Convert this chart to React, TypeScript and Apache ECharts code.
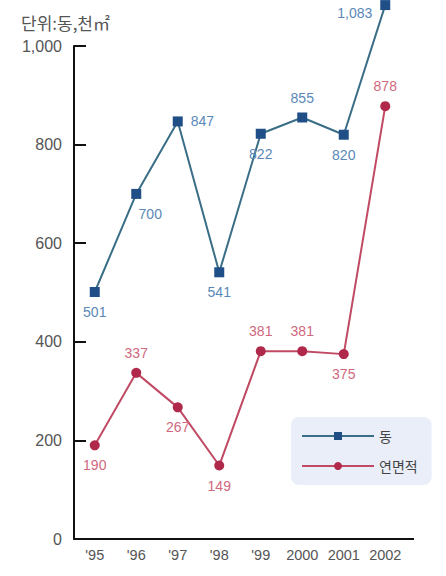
import React, { useEffect, useRef } from "react";
import * as echarts from "echarts";

const categories = ["'95", "'96", "'97", "'98", "'99", "2000", "2001", "2002"];
const dongValues = [501, 700, 847, 541, 822, 855, 820, 1083];
const areaValues = [190, 337, 267, 149, 381, 381, 375, 878];
const dongLabelPos = ["bottom", "bottom", "right", "bottom", "bottom", "top", "bottom", "left"];
const areaLabelPos = ["bottom", "top", "bottom", "bottom", "top", "top", "bottom", "top"];
const yTicks = [0, 200, 400, 600, 800, 1000];

const NUM_FONT = "'Liberation Sans', 'Noto Sans CJK KR', sans-serif";
const KR_FONT = "'Noto Sans CJK KR', 'Noto Sans', sans-serif";

export default function App() {
  const ref = useRef<HTMLDivElement>(null);
  useEffect(() => {
    const chart = echarts.init(ref.current!, undefined, { renderer: "svg" });
    const fmt = (v: number) => v.toLocaleString("en-US");
    const dongOffset = (i: number) => (i === 1 ? [14, 0] : i === 7 ? [0, 8] : [0, 0]);
    chart.setOption({
      animation: false,
      textStyle: { fontFamily: NUM_FONT },
      title: {
        text: "단위:동,천㎡",
        left: 16,
        top: 9,
        textStyle: { fontSize: 17, fontWeight: "normal", color: "#555", fontFamily: KR_FONT },
      },
      legend: {
        left: 291,
        top: 417,
        orient: "vertical",
        itemWidth: 72,
        itemHeight: 10,
        itemGap: 16,
        padding: [12, 14, 12, 10],
        backgroundColor: "#e9eef9",
        borderRadius: 8,
        textStyle: { fontSize: 14, color: "#444", fontFamily: KR_FONT },
        data: ["동", "연면적"],
      },
      grid: { left: 74, right: 40, top: 46, bottom: 37, containLabel: false },
      graphic: [
        {
          type: "line",
          shape: { x1: 405, y1: 539, x2: 414, y2: 539 },
          style: { stroke: "#111", lineWidth: 2 },
        },
      ],
      xAxis: {
        type: "category",
        data: categories,
        boundaryGap: true,
        axisLine: { lineStyle: { color: "#111", width: 2 } },
        axisTick: { inside: true, length: 9, lineStyle: { color: "#111", width: 2 } },
        axisLabel: { color: "#555", fontSize: 14.5, margin: 9, interval: 0, fontFamily: NUM_FONT },
      },
      yAxis: {
        type: "value",
        min: 0,
        max: 1000,
        interval: 200,
        splitLine: { show: false },
        axisLine: { show: true, lineStyle: { color: "#111", width: 2 } },
        axisTick: { show: true, inside: true, length: 12, lineStyle: { color: "#111", width: 2 } },
        axisLabel: {
          color: "#555",
          fontSize: 16,
          margin: 12,
          fontFamily: NUM_FONT,
          formatter: (v: number) => (yTicks.includes(v) ? fmt(v) : ""),
        },
      },
      series: [
        {
          name: "동",
          type: "line",
          symbol: "rect",
          symbolSize: 10,
          clip: false,
          itemStyle: { color: "#1f4f86" },
          lineStyle: { color: "#3a6e86", width: 2 },
          data: dongValues.map((v, i) => ({
            value: v,
            label: {
              show: true,
              position: dongLabelPos[i],
              distance: 8,
              offset: dongOffset(i),
              color: "#5a88b8",
              fontSize: 14,
              fontFamily: NUM_FONT,
              formatter: () => fmt(v),
            },
          })),
        },
        {
          name: "연면적",
          type: "line",
          symbol: "circle",
          symbolSize: 10,
          clip: false,
          itemStyle: { color: "#b0284a" },
          lineStyle: { color: "#c04a64", width: 2 },
          data: areaValues.map((v, i) => ({
            value: v,
            label: {
              show: true,
              position: areaLabelPos[i],
              distance: 8,
              color: "#d0687e",
              fontSize: 14,
              fontFamily: NUM_FONT,
              formatter: () => fmt(v),
            },
          })),
        },
      ],
    });
    return () => chart.dispose();
  }, []);
  return <div ref={ref} style={{ width: 446, height: 576, position: "absolute", left: 0, top: 0 }} />;
}
